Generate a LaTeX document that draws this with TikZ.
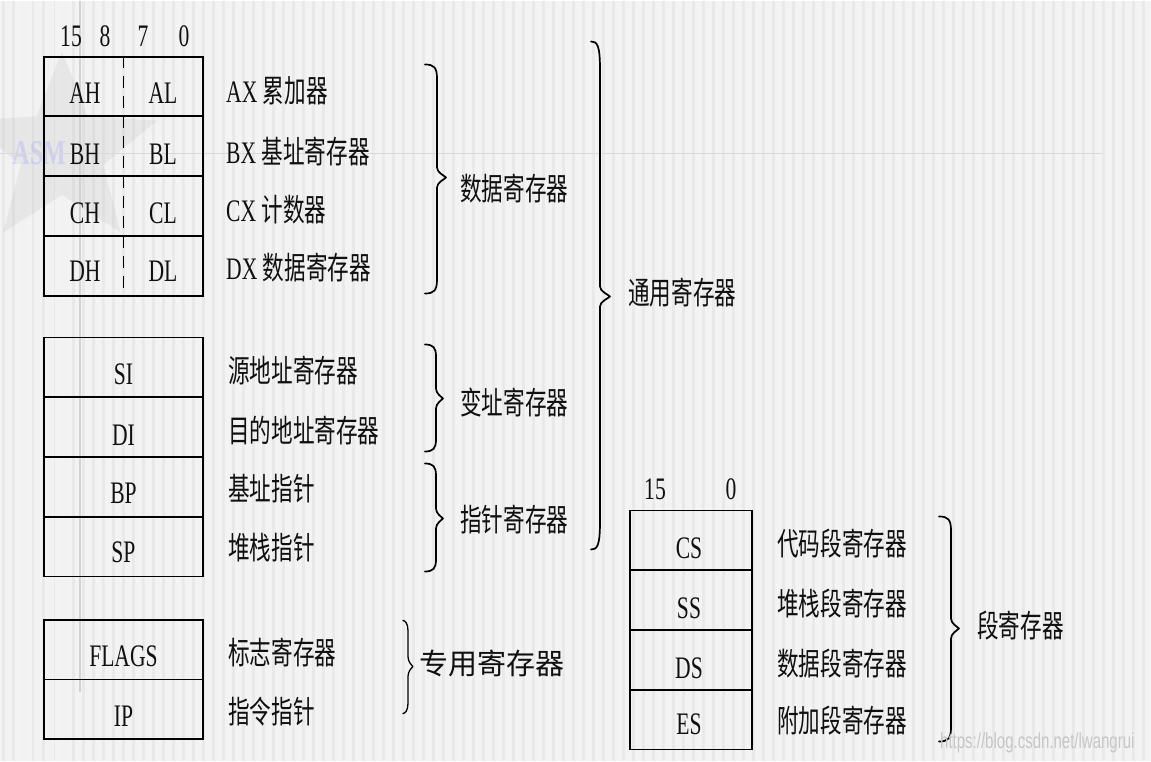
\documentclass[tikz,border=0pt]{standalone}
\usepackage{fontspec}
\setmainfont{Liberation Serif}
\newfontfamily\cjk{Noto Sans CJK SC}
\newfontfamily\wmfont{Liberation Sans}
\usetikzlibrary{shapes.geometric}
\newcommand\sz{\fontsize{21.6}{26}\selectfont}
\newcommand\bigsz{\fontsize{29}{34}\selectfont}
\newcommand\T[1]{\scalebox{1}[1.45]{#1}}
\definecolor{bgc}{HTML}{F3F3F3}
\definecolor{stripec}{HTML}{E9E9E9}
\definecolor{inkc}{HTML}{101010}
\newcommand\Brace[7]{%
  \draw[brace] (#1,#4) .. controls ({#2-3},#4) and (#2,{#4+3}) .. (#2,{#4+#7})
    -- (#2,{#5-10}) .. controls (#2,{#5-5}) and ({#3-2},{#5-2}) .. (#3,#5)
    .. controls ({#3-2},{#5+2}) and (#2,{#5+5}) .. (#2,{#5+10})
    -- (#2,{#6-#7}) .. controls (#2,{#6-3}) and ({#2-3},#6) .. (#1,#6);}
\begin{document}
\begin{tikzpicture}[x=1pt,y=-1pt,
  reg/.style={draw=black, line width=1.8pt, inner sep=0pt, minimum width=159pt, minimum height=59.75pt},
  seg/.style={reg, minimum width=122pt},
  txt/.style={inner sep=0pt, anchor=base, font=\sz, text=inkc},
  lab/.style={txt, anchor=base west},
  brace/.style={draw=black, line width=1.7pt, line join=round, line cap=round},
  divider/.style={draw=black, line width=1.6pt, dash pattern=on 12pt off 8pt},
  stripe/.style={draw=stripec, line width=3pt},
]
% background
\fill[bgc] (0,0) rectangle (1151,759);
\foreach \x in {3,13,...,1151} \draw[stripe] (\x,0) -- (\x,759);
\foreach \x in {6,20,34,48,62} \fill[gray!10] (\x,0) rectangle ++(6,759);
\useasboundingbox (0,0) rectangle (1151,759);
\node[star, star points=5, star point ratio=2.3, minimum size=200pt, fill=gray, opacity=0.10, inner sep=0pt] (logo) at (62,150) {};
\node[inner sep=0pt, anchor=base east, text=blue!35, opacity=0.35, font=\fontsize{24}{24}\selectfont\bfseries] (asm) at (66,163) {\T{ASM}};
\draw[gray!35, line width=2pt] (80,0) -- (80,690);
\draw[gray!30, line width=1.5pt] (0,152) -- (1102,152);

% block 1: data registers
\node[reg] (rA) at (123.5,85) {};
\node[reg] (rB) at (123.5,144.75) {};
\node[reg] (rC) at (123.5,204.5) {};
\node[reg] (rD) at (123.5,264.25) {};
\draw[divider] (rA.north) -- (rD.south);
\node[txt] (b15) at (71,45) {\T{15}};
\node[txt] (b8) at (105,45) {\T{8}};
\node[txt] (b7) at (143,45) {\T{7}};
\node[txt] (b0) at (184,45) {\T{0}};
\node[txt] (tAH) at (85,102) {\T{AH}};
\node[txt] (tAL) at (163,102) {\T{AL}};
\node[txt] (tBH) at (85,163) {\T{BH}};
\node[txt] (tBL) at (163,163) {\T{BL}};
\node[txt] (tCH) at (85,222) {\T{CH}};
\node[txt] (tCL) at (163,222) {\T{CL}};
\node[txt] (tDH) at (85,280) {\T{DH}};
\node[txt] (tDL) at (163,280) {\T{DL}};
\node[lab] (lAX) at (226,101) {\T{AX {\cjk 累加器}}};
\node[lab] (lBX) at (226,162) {\T{BX {\cjk 基址寄存器}}};
\node[lab] (lCX) at (226,220) {\T{CX {\cjk 计数器}}};
\node[lab] (lDX) at (226,278) {\T{DX {\cjk 数据寄存器}}};

% block 2: index and pointer registers
\node[reg] (rSI) at (123.5,365.9) {};
\node[reg] (rDI) at (123.5,425.6) {};
\node[reg] (rBP) at (123.5,485.4) {};
\node[reg] (rSP) at (123.5,545.1) {};
\node[txt] (tSI) at (123.5,383) {\T{SI}};
\node[txt] (tDI) at (123.5,444) {\T{DI}};
\node[txt] (tBP) at (123.5,502) {\T{BP}};
\node[txt] (tSP) at (123.5,561) {\T{SP}};
\node[lab] (lSI) at (228,381) {\T{\cjk 源地址寄存器}};
\node[lab] (lDI) at (228,441) {\T{\cjk 目的地址寄存器}};
\node[lab] (lBP) at (228,499) {\T{\cjk 基址指针}};
\node[lab] (lSP) at (228,558) {\T{\cjk 堆栈指针}};

% block 3: special registers
\node[reg, minimum height=59.5pt] (rFL) at (123.5,648.25) {};
\node[reg, minimum height=59.5pt] (rIP) at (123.5,707.75) {};
\node[txt] (tFL) at (123.5,665) {\T{FLAGS}};
\node[txt] (tIP) at (123.5,725) {\T{IP}};
\node[lab] (lFL) at (228,663) {\T{\cjk 标志寄存器}};
\node[lab] (lIP) at (228,722) {\T{\cjk 指令指针}};

% segment registers
\node[seg] (rCS) at (691,538.9) {};
\node[seg] (rSS) at (691,598.6) {};
\node[seg] (rDS) at (691,658.4) {};
\node[seg] (rES) at (691,718.1) {};
\node[txt] (s15) at (655,498) {\T{15}};
\node[txt] (s0) at (731,498) {\T{0}};
\node[txt] (tCS) at (689,557) {\T{CS}};
\node[txt] (tSS) at (689,617) {\T{SS}};
\node[txt] (tDS) at (689,677) {\T{DS}};
\node[txt] (tES) at (689,733) {\T{ES}};
\node[lab] (lCS) at (777,554) {\T{\cjk 代码段寄存器}};
\node[lab] (lSS) at (777,614) {\T{\cjk 堆栈段寄存器}};
\node[lab] (lDS) at (777,674) {\T{\cjk 数据段寄存器}};
\node[lab] (lES) at (777,731) {\T{\cjk 附加段寄存器}};

% braces
\Brace{425}{437}{446}{63}{176}{292}{14}
\Brace{425}{436}{443}{343}{397}{450}{12}
\Brace{425}{436}{443}{462}{517}{570}{12}
\Brace{591}{600}{610}{40}{295}{548}{28}
\Brace{939}{951}{959}{515}{627}{740}{14}
\begin{scope}[brace/.append style={line width=1.3pt}]
\Brace{403}{408}{413}{619}{665}{712}{10}
\end{scope}

% group labels
\node[lab] (gData) at (460,199) {\T{\cjk 数据寄存器}};
\node[lab] (gIdx) at (460,413) {\T{\cjk 变址寄存器}};
\node[lab] (gPtr) at (460,530) {\T{\cjk 指针寄存器}};
\node[lab] (gGen) at (628,303) {\T{\cjk 通用寄存器}};
\node[lab] (gSeg) at (977,636) {\T{\cjk 段寄存器}};
\node[lab, font=\bigsz] (gSpec) at (419,673) {\cjk 专用寄存器};

% watermark
\node[anchor=base west, inner sep=0pt, text=gray!45, font=\wmfont\fontsize{15}{15}\selectfont] (wm) at (940,747) {\T{https://blog.csdn.net/lwangrui}};
\end{tikzpicture}
\end{document}
